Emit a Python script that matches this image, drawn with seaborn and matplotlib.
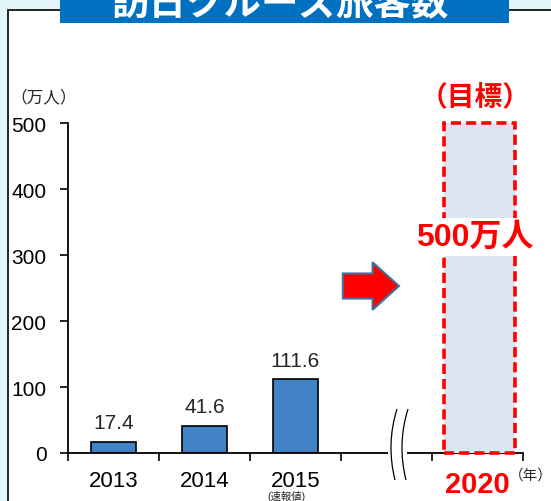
import numpy as np
import seaborn as sns
import matplotlib.pyplot as plt
from matplotlib.patches import Rectangle, FancyArrow, PathPatch
from matplotlib.path import Path

years = ['2013', '2014', '2015', '', '2020']
visitors = [17.4, 41.6, 111.6]
target = 500
yticks = [0, 100, 200, 300, 400, 500]

sns.set_style('ticks')
plt.rcParams['font.family'] = ['Liberation Sans', 'Noto Sans CJK JP']

W, H = 551, 502
fig = plt.figure(figsize=(W / 100, H / 100), dpi=100)
fig.patch.set_facecolor('#e3f4fb')

# white panel + title banner
fig.add_artist(Rectangle((8 / W, -0.1), 1.0, (H - 11) / H + 0.1, transform=fig.transFigure,
                         fc='white', ec='black', lw=1.2, zorder=-2))
fig.add_artist(Rectangle((60 / W, (H - 24) / H), (509 - 60) / W, 24 / H + 0.01,
                         transform=fig.transFigure, fc='#0070c0', ec='none', zorder=-1))
fig.text(281 / W, (H - 3) / H, '訪日クルーズ旅客数', color='white', fontsize=27,
         fontweight='bold', ha='center', va='center', family=['Noto Sans CJK JP'])
fig.text(10 / W, (H - 98) / H, '（万人）', fontsize=12, ha='left', va='center',
         family=['Noto Sans CJK JP'])

ax = fig.add_axes([68 / W, 48 / H, 455 / W, 330 / H])
ax.set_facecolor('none')

sns.barplot(x=years[:3], y=visitors, order=years, color='#4283c6', width=0.5,
            edgecolor='black', linewidth=1.2, saturation=1, ax=ax)
ax.bar_label(ax.containers[0], fmt='%.1f', padding=7, fontsize=15)

# target box for 2020
ax.bar(years.index('2020') + 0.02, target, width=0.78, color='#dce6f2', edgecolor='red',
       linestyle=(0, (2.8, 1.4)), linewidth=2.6, zorder=3, clip_on=False)

ax.set_xlim(-0.5, 4.5)
ax.set_ylim(0, 500)
ax.set_yticks(yticks)
ax.set_xticks(range(len(years)))
ax.set_xticklabels(years)
ax.set_xticks(np.arange(-0.5, len(years), 1), minor=True)
ax.set_xlabel('')
ax.set_ylabel('')
sns.despine(ax=ax)
for s in ['left', 'bottom']:
    ax.spines[s].set_linewidth(1.3)
    ax.spines[s].set_color('black')
ax.tick_params(axis='y', length=5.5, width=1.2, pad=10, labelsize=15, colors='black')
ax.tick_params(axis='x', which='major', length=0, pad=12, labelsize=16, colors='black')
ax.tick_params(axis='x', which='minor', length=6, width=1.2, direction='out', color='black')

lab = ax.get_xticklabels()[years.index('2020')]
lab.set_color('red')
lab.set_fontsize(21)
lab.set_fontweight('bold')

ax.text(1.9, -0.13, '(速報値)', transform=ax.get_xaxis_transform(), fontsize=7.5,
        ha='center', va='center')
ax.text(0.968, -0.064, '（年）', transform=ax.transAxes, fontsize=10.5, ha='left', va='center')

# axis break
xt = ax.get_xaxis_transform()
ax.add_patch(Rectangle((3.02, -0.015), 0.21, 0.03, transform=xt, fc='white', ec='none',
                       clip_on=False, zorder=5))


def px2x(px):
    return (px - 68) / 91 - 0.5


def py2y(py):
    return (454 - py) / 330


for off in [0, 11]:
    verts = [(px2x(397 + off), py2y(410)), (px2x(386 + off), py2y(445)),
             (px2x(395 + off), py2y(481))]
    ax.add_patch(PathPatch(Path(verts, [Path.MOVETO, Path.CURVE3, Path.CURVE3]),
                           transform=xt, fc='none', ec='black', lw=0.9, clip_on=False,
                           zorder=6))

# arrow + annotations
ax.add_patch(FancyArrow(2.52, 253, 0.617, 0, width=38, head_width=72, head_length=0.29,
                        length_includes_head=True, fc='red', ec='#41719c', lw=1.5,
                        clip_on=False, zorder=4))
ax.text(3.97, 539, '（目標）', color='red', fontsize=20, fontweight='bold', ha='center',
        va='center', clip_on=False)
ax.text(3.97, 327, '500万人', color='red', fontsize=23, fontweight='bold', ha='center',
        va='center', zorder=7,
        bbox=dict(boxstyle='square,pad=0.12', fc='white', ec='none'))

fig.savefig('out.png', dpi=100)
